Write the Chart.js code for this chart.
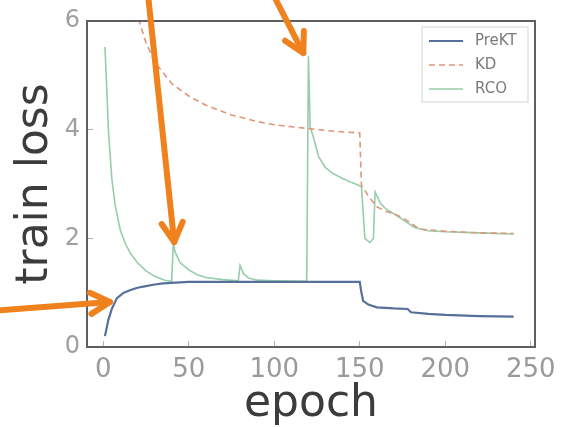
<!DOCTYPE html>
<html>
<head>
<meta charset="utf-8">
<script src="https://cdn.jsdelivr.net/npm/chart.js@4.4.1/dist/chart.umd.min.js"></script>
<style>
  body { margin: 0; background: #fff; }
  canvas { display: block; }
</style>
</head>
<body>
<canvas id="lossChart" width="562" height="427"></canvas>
<script>
// values
const xTicks = [0, 50, 100, 150, 200, 250];
const yTicks = [0, 2, 4, 6];

const preKTEpochs = [1, 3, 5, 8, 12, 16, 20, 25, 30, 35, 40, 50, 150, 151, 152, 155, 160, 170, 178, 180, 190, 200, 220, 240];
const preKTLoss = [0.2, 0.5, 0.7, 0.9, 1.0, 1.05, 1.09, 1.12, 1.15, 1.17, 1.18, 1.2, 1.2, 1.0, 0.85, 0.78, 0.73, 0.71, 0.70, 0.64, 0.61, 0.59, 0.57, 0.56];

const kdEpochs = [1, 5, 10, 15, 20, 25, 30, 40, 50, 60, 75, 90, 100, 120, 135, 150, 151, 155, 160, 165, 170, 175, 180, 185, 200, 220, 240];
const kdLoss = [20, 13.5, 8.6, 6.9, 6.1, 5.6, 5.25, 4.85, 4.62, 4.45, 4.27, 4.15, 4.09, 4.02, 3.97, 3.94, 2.98, 2.78, 2.58, 2.5, 2.45, 2.38, 2.28, 2.17, 2.13, 2.1, 2.09];

const rcoEpochs = [1, 2, 3, 5, 7, 10, 13, 16, 20, 25, 30, 36, 40, 41, 42, 45, 50, 55, 60, 70, 79, 80, 82, 85, 90, 100, 119, 120, 121, 123, 126, 130, 134, 140, 145, 150, 151, 153, 156, 158, 159, 162, 165, 170, 175, 182, 190, 200, 220, 240];
const rcoLoss = [5.52, 4.8, 4.0, 3.1, 2.6, 2.15, 1.9, 1.72, 1.55, 1.4, 1.3, 1.23, 1.21, 1.92, 1.75, 1.55, 1.42, 1.33, 1.28, 1.24, 1.22, 1.5, 1.35, 1.27, 1.23, 1.22, 1.21, 5.35, 4.05, 3.85, 3.5, 3.3, 3.2, 3.1, 3.03, 2.97, 2.95, 2.0, 1.92, 2.0, 2.85, 2.65, 2.55, 2.45, 2.35, 2.2, 2.14, 2.12, 2.1, 2.08];

// orange call-out arrows, in data units: [tailEpoch, tailLoss, tipEpoch, tipLoss]
const arrows = [
  [26.2, 6.48, 41.5, 1.93],
  [99.5, 6.48, 117, 5.41],
  [-63.3, 0.67, 3.9, 0.83]
];

function points(xs, ys) {
  return xs.map((x, i) => ({ x: x, y: ys[i] }));
}

Chart.defaults.font.family = "'DejaVu Sans', sans-serif";

// box around the plot
const framePlugin = {
  id: 'frame',
  afterDraw(chart) {
    const a = chart.chartArea;
    const ctx = chart.ctx;
    ctx.save();
    ctx.strokeStyle = '#5f5f5f';
    ctx.lineWidth = 2;
    ctx.strokeRect(a.left, a.top, a.right - a.left, a.bottom - a.top);
    ctx.restore();
  }
};

// legend inside the plot, top right
const boxLegend = {
  id: 'boxLegend',
  afterDraw(chart) {
    const a = chart.chartArea;
    const ctx = chart.ctx;
    const left = a.right - 113, top = a.top + 6;
    ctx.save();
    ctx.strokeStyle = '#e2e2e2';
    ctx.lineWidth = 1.5;
    ctx.strokeRect(left, top, 106, 75);
    ctx.font = "15px 'DejaVu Sans'";
    ctx.textBaseline = 'middle';
    chart.data.datasets.forEach((ds, i) => {
      const y = top + 14 + i * 24;
      ctx.strokeStyle = ds.borderColor;
      ctx.lineWidth = ds.borderWidth;
      ctx.setLineDash(ds.borderDash || []);
      ctx.beginPath();
      ctx.moveTo(left + 7, y);
      ctx.lineTo(left + 41, y);
      ctx.stroke();
      ctx.setLineDash([]);
      ctx.fillStyle = '#7a7a7a';
      ctx.fillText(ds.label, left + 53, y);
    });
    ctx.restore();
  }
};

const arrowPlugin = {
  id: 'arrows',
  afterDraw(chart) {
    const xs = chart.scales.x, ys = chart.scales.y;
    const ctx = chart.ctx;
    ctx.save();
    ctx.strokeStyle = '#f0821e';
    ctx.lineWidth = 6;
    ctx.lineCap = 'round';
    ctx.lineJoin = 'round';
    arrows.forEach(ar => {
      const x1 = xs.getPixelForValue(ar[0]), y1 = ys.getPixelForValue(ar[1]);
      const x2 = xs.getPixelForValue(ar[2]), y2 = ys.getPixelForValue(ar[3]);
      const ang = Math.atan2(y2 - y1, x2 - x1);
      ctx.beginPath();
      ctx.moveTo(x1, y1);
      ctx.lineTo(x2, y2);
      ctx.stroke();
      ctx.beginPath();
      ctx.moveTo(x2 - 22 * Math.cos(ang - 0.5), y2 - 22 * Math.sin(ang - 0.5));
      ctx.lineTo(x2, y2);
      ctx.lineTo(x2 - 22 * Math.cos(ang + 0.5), y2 - 22 * Math.sin(ang + 0.5));
      ctx.stroke();
    });
    ctx.restore();
  }
};

new Chart(document.getElementById('lossChart'), {
  type: 'line',
  data: {
    datasets: [
      { label: 'PreKT', data: points(preKTEpochs, preKTLoss), borderColor: '#56709a', borderWidth: 2.2 },
      { label: 'KD', data: points(kdEpochs, kdLoss), borderColor: '#de977a', borderWidth: 1.6, borderDash: [6, 4] },
      { label: 'RCO', data: points(rcoEpochs, rcoLoss), borderColor: '#96cdaa', borderWidth: 1.6 }
    ]
  },
  options: {
    responsive: false,
    animation: false,
    layout: { padding: { left: 0, right: 27, top: 21, bottom: 0 } },
    elements: { point: { radius: 0 }, line: { tension: 0 } },
    plugins: { legend: { display: false }, tooltip: { enabled: false } },
    scales: {
      x: {
        type: 'linear',
        min: -9.5,
        max: 252.5,
        afterBuildTicks: s => { s.ticks = xTicks.map(v => ({ value: v })); },
        afterFit: s => { s.height = 80; s.paddingLeft = 0; s.paddingRight = 0; },
        ticks: { font: { size: 26 }, color: '#9a9a9a', padding: 14 },
        grid: { drawOnChartArea: false, tickLength: -6, color: '#b0b0b0' },
        border: { display: false },
        title: { display: true, text: 'epoch', color: '#3c3c3c', font: { size: 44 }, padding: { top: 0, bottom: -4 } }
      },
      y: {
        min: 0,
        max: 6,
        afterBuildTicks: s => { s.ticks = yTicks.map(v => ({ value: v })); },
        afterFit: s => { s.width = 87; s.paddingTop = 0; s.paddingBottom = 0; },
        ticks: { font: { size: 24 }, color: '#a0a0a0', padding: 13 },
        grid: { drawOnChartArea: false, tickLength: -6, color: '#b0b0b0' },
        border: { display: false },
        title: { display: true, text: 'train loss', color: '#3c3c3c', font: { size: 44 }, padding: { top: 9, bottom: 0 } }
      }
    }
  },
  plugins: [framePlugin, boxLegend, arrowPlugin]
});
</script>
</body>
</html>
